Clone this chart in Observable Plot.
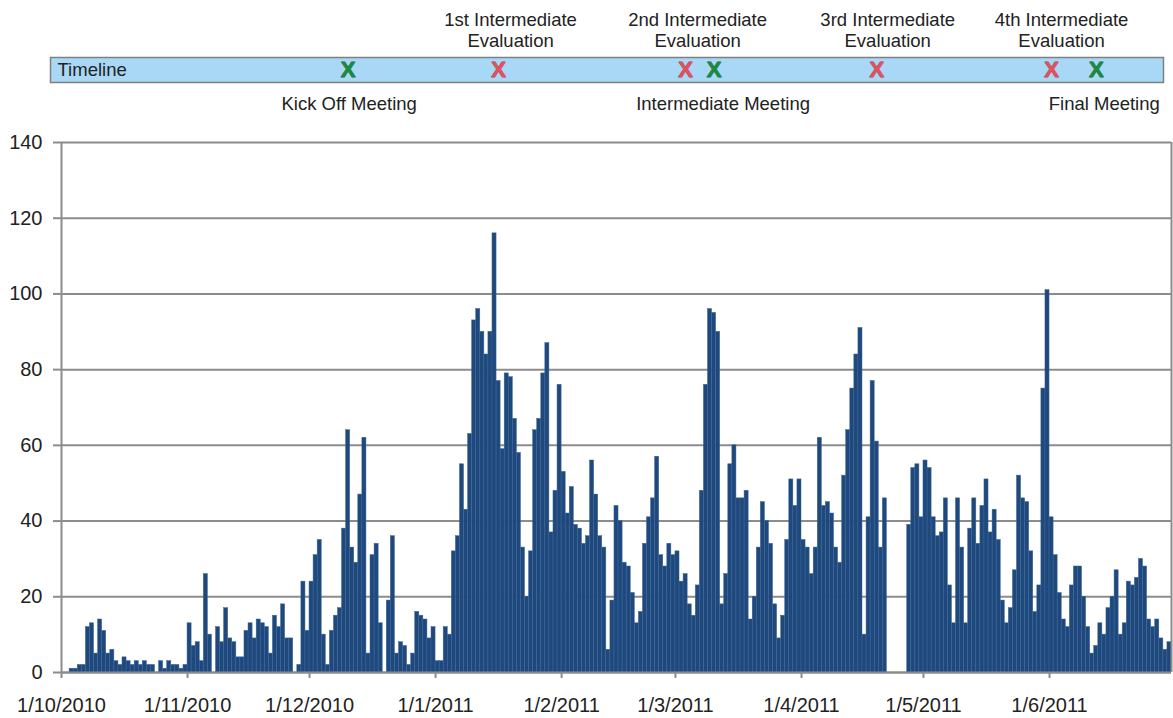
<!DOCTYPE html>
<html><head><meta charset="utf-8">
<script src="https://cdn.jsdelivr.net/npm/d3@7"></script>
<script src="https://cdn.jsdelivr.net/npm/@observablehq/plot@0.6"></script>
<style>
body{margin:0;background:#fff;font-family:"Liberation Sans",Arial,sans-serif;}
#chart svg{display:block}
</style></head><body><div id="chart"></div>
<script>
const startDate = "2010-10-01";
const endDate = "2011-07-01";
const octValues = [0,0,1,1,2,2,12,13,5,14,11,5,6,3,2,4,3,2,3,2,3,2,2,0,3,1,3,2,2,1,2];
const novValues = [13,7,8,3,26,10,0,12,8,17,9,8,4,4,11,13,9,14,13,12,5,15,12,18,9,9,0,2,24,11];
const decValues = [24,31,35,10,2,11,15,17,38,64,33,29,47,62,5,31,34,13,0,19,36,5,8,7,2,5,16,15,14,9,12];
const janValues = [3,3,12,10,32,36,55,43,63,93,96,90,84,90,116,77,59,79,78,67,58,33,20,32,64,67,79,87,37,48,76];
const febValues = [53,42,49,39,38,34,36,56,47,36,33,6,19,44,40,29,28,21,13,16,34,41,46,57,31,28,34,31];
const marValues = [32,24,26,18,15,23,48,76,96,95,90,18,26,55,60,46,46,48,14,20,33,45,40,34,18,9,15,35,51,44,51];
const aprValues = [35,33,26,33,62,44,45,42,33,29,52,64,75,84,91,10,41,77,61,33,46,0,0,0,0,0,39,54,55,41];
const mayValues = [56,54,41,36,37,46,23,13,46,33,13,38,46,34,44,51,37,43,35,19,13,17,27,52,46,45,32,16,23,75,101];
const junValues = [41,31,21,14,12,23,28,28,20,12,5,7,13,10,17,20,27,10,13,24,23,25,30,28,14,12,14,9,6,8];

const monthTicks = ["2010-10-01","2010-11-01","2010-12-01","2011-01-01","2011-02-01","2011-03-01","2011-04-01","2011-05-01","2011-06-01"];
const monthLabels = ["1/10/2010","1/11/2010","1/12/2010","1/1/2011","1/2/2011","1/3/2011","1/4/2011","1/5/2011","1/6/2011"];
const yTicks = [0,20,40,60,80,100,120,140];

const eventDates = ["2010-12-10","2011-01-16","2011-03-03","2011-03-10","2011-04-19","2011-06-01","2011-06-12"];
const eventKinds = ["meeting","evaluation","evaluation","meeting","evaluation","evaluation","meeting"];
const eventLabels = ["Kick Off Meeting","1st Intermediate\nEvaluation","2nd Intermediate\nEvaluation","Intermediate Meeting","3rd Intermediate\nEvaluation","4th Intermediate\nEvaluation","Final Meeting"];
const timelineTitle = "Timeline";

// layout only: horizontal nudge of each event label relative to its marker (px)
const labelDx = [1, 12, 12, 9, 11, 10, 8];

const parse = s => new Date(s + "T00:00:00Z");
const x0 = parse(startDate), xEnd = parse(endDate);
const values = [].concat(octValues, novValues, decValues, janValues, febValues, marValues, aprValues, mayValues, junValues);
const rows = values.map((v, i) => ({start: d3.utcDay.offset(x0, i), end: d3.utcDay.offset(x0, i + 1), value: v}));
const labelMap = new Map(monthTicks.map((t, i) => [+parse(t), monthLabels[i]]));
const events = eventDates.map((d, i) => ({date: d3.utcHour.offset(parse(d), 12), kind: eventKinds[i], label: eventLabels[i], i}));

const W = 1173;
const GRAY = "#8c8c8c";
const FONT = "'Liberation Sans', Arial, sans-serif";

const main = Plot.plot({
  width: W, height: 593,
  marginTop: 17, marginBottom: 46, marginLeft: 61, marginRight: 2,
  style: {fontFamily: FONT, fontSize: "20px", color: "#222", background: "white"},
  x: {type: "utc", domain: [x0, xEnd]},
  y: {domain: [0, 140]},
  marks: [
    Plot.gridY(yTicks, {stroke: GRAY, strokeOpacity: 1, strokeWidth: 2}),
    Plot.rectY(rows, {x1: "start", x2: "end", y: "value", fill: "#1f497d", stroke: "#3a6598", strokeWidth: 0.5}),
    Plot.ruleX([x0, xEnd], {stroke: GRAY, strokeWidth: 2}),
    Plot.ruleY([0], {stroke: GRAY, strokeWidth: 2}),
    Plot.axisY({ticks: yTicks, tickSize: 8, tickPadding: 11, stroke: GRAY, strokeWidth: 2, label: null, fill: "#222"}),
    Plot.axisX({ticks: monthTicks.map(parse), tickSize: 6, tickPadding: 19, tickFormat: d => labelMap.get(+d), stroke: GRAY, strokeWidth: 2, label: null, fill: "#222"})
  ]
});

const xs = main.scale("x");
const labelMarks = events.map(e => e.kind === "evaluation"
  ? Plot.text([e], {x: "date", frameAnchor: "top", lineAnchor: "middle", dy: -27.5, dx: labelDx[e.i], text: "label", lineHeight: 1.15, fill: "#222", fontSize: 18.5})
  : Plot.text([e], {x: "date", frameAnchor: "bottom", lineAnchor: "middle", dy: 22, dx: labelDx[e.i], text: "label", fill: "#222", fontSize: 18.5}));

const timeline = Plot.plot({
  width: W, height: 125,
  marginTop: 57, marginBottom: 43, marginLeft: 50, marginRight: 10,
  style: {fontFamily: FONT, fontSize: "18px", color: "#222", background: "white"},
  x: {type: "utc", domain: xs.domain, range: xs.range, axis: null},
  marks: [
    Plot.frame({fill: "#a8d8f5", stroke: "#7f7f7f", strokeWidth: 1.5}),
    Plot.text([timelineTitle], {frameAnchor: "left", dx: 7, textAnchor: "start", fill: "#222", fontSize: 18.5}),
    Plot.text(events, {x: "date", frameAnchor: "middle", lineAnchor: "middle", text: () => "X", fontWeight: "bold", fontSize: 22,
      fill: d => d.kind === "meeting" ? "#1b8a3e" : "#e0525d", stroke: d => d.kind === "meeting" ? "#136b2f" : "#b8404a", strokeWidth: 0.8}),
    ...labelMarks
  ]
});

const root = document.getElementById("chart");
root.appendChild(timeline);
root.appendChild(main);
</script>
</body></html>
